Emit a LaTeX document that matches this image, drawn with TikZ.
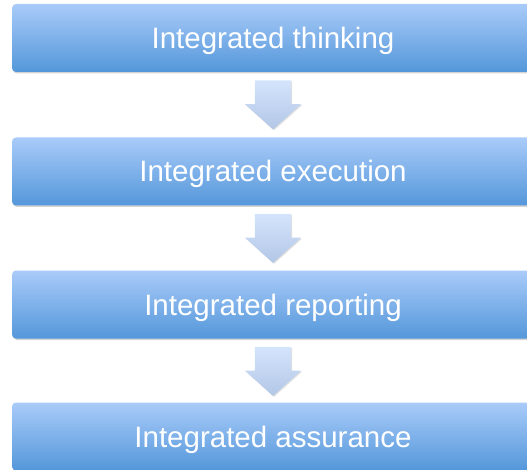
\documentclass[tikz,border=0pt]{standalone}
\usepackage{fontspec}
\setmainfont{Liberation Sans}
\usetikzlibrary{calc,shapes.arrows,shadows}
\definecolor{stagetop}{RGB}{169,203,249}
\definecolor{stagebottom}{RGB}{84,151,218}
\definecolor{flowtop}{RGB}{212,228,252}
\definecolor{flowbottom}{RGB}{178,198,230}
\tikzset{
    stage/.style={rectangle, rounded corners=4pt, minimum width=522pt, minimum height=68pt,
        top color=stagetop, bottom color=stagebottom, text=white,
        font=\fontsize{29.5}{34}\selectfont, text height=21pt, text depth=0pt,
        drop shadow={shadow xshift=1pt, shadow yshift=-1.5pt, opacity=.35}},
    flow/.style={single arrow, rotate=-90, anchor=tail, minimum height=49pt,
        single arrow head extend=10pt, single arrow tip angle=96,
        inner xsep=0pt, inner ysep=18pt, text height=0pt, text depth=0pt,
        top color=flowtop, bottom color=flowbottom,
        drop shadow={shadow xshift=1pt, shadow yshift=-1pt, opacity=.25}}
}
\begin{document}
\begin{tikzpicture}[x=1pt,y=1pt]
            \useasboundingbox (0,0) rectangle (527,-470);

            \node[stage] (think) at (273,-38) {Integrated thinking};
            \node[stage] (exec) at (273,-171.5) {Integrated execution};
            \node[stage] (report) at (273,-304.5) {Integrated reporting};
            \node[stage] (assure) at (273,-436.5) {Integrated assurance};

            \node[flow] (thinkexec) at ($(think.south)+(0,-8)$) {};
            \node[flow] (execreport) at ($(exec.south)+(0,-8)$) {};
            \node[flow] (reportassure) at ($(report.south)+(0,-8)$) {};
        \end{tikzpicture}
\end{document}
